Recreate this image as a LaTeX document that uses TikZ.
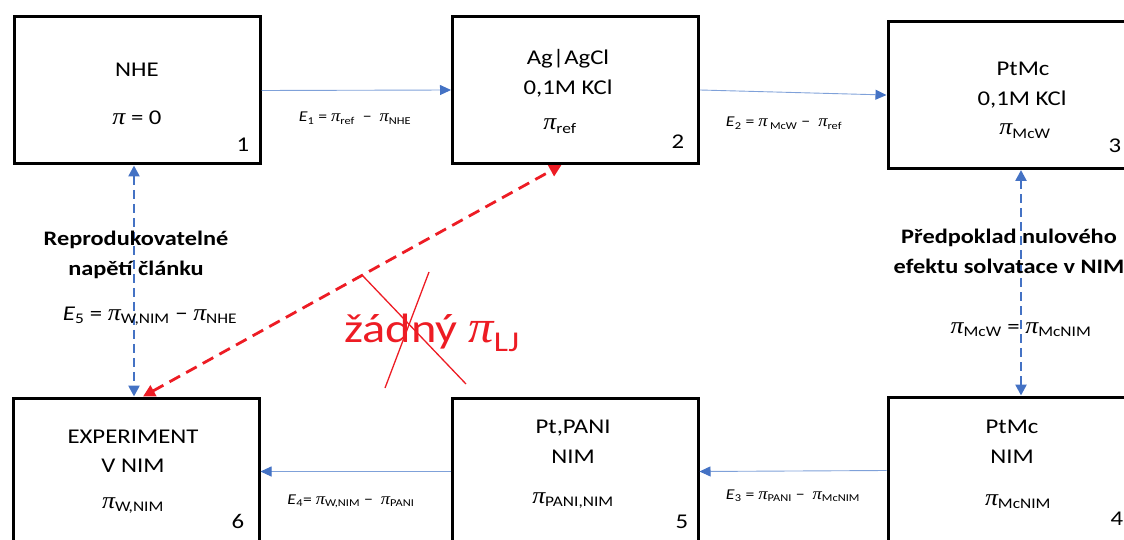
\documentclass[tikz,border=0pt]{standalone}
\usepackage{fontspec}
\usepackage{amsmath}
\setmainfont{Carlito}[FakeStretch=1.18]
\newfontfamily\greekfont{Liberation Serif}[FakeStretch=1.1,Scale=1.12]
\usetikzlibrary{arrows.meta}
\definecolor{boxblue}{HTML}{4472C4}
\definecolor{lineblue}{HTML}{7FA1D9}
\definecolor{alertred}{RGB}{237,28,36}
\newcommand{\piv}{{\greekfont\itshape π}}
\newcommand{\sub}[1]{$_{\text{#1}}$}
\begin{document}
\begin{tikzpicture}[x=1pt,y=-1pt,
  cell/.style={draw=black, line width=3pt, minimum width=246pt, minimum height=147pt, inner sep=0pt},
  big/.style={font=\fontsize{21}{25}\selectfont, anchor=base, inner sep=0pt},
  eq/.style={font=\fontsize{15}{18}\selectfont, anchor=base, inner sep=0pt},
  note/.style={font=\bfseries\fontsize{20.6}{24}\selectfont, anchor=base, inner sep=0pt},
  link/.style={draw=lineblue, line width=0.9pt, -{Triangle[length=11pt,width=10pt,color=boxblue]}},
  bridge/.style={draw=boxblue, line width=2.5pt, dash pattern=on 9pt off 5pt,
    {Triangle[length=11pt,width=11pt]}-{Triangle[length=11pt,width=11pt]}},
  redbridge/.style={draw=alertred, line width=2.8pt, dash pattern=on 12pt off 7pt,
    {Triangle[length=12pt,width=12pt]}-{Triangle[length=12pt,width=12pt]}},
  strike/.style={draw=alertred, line width=1.3pt}
]
\clip (0,0) rectangle (1124,540);

% cells
\node[cell] (b1) at (137,90.5) {};
\node[cell] (b2) at (575.5,90) {};
\node[cell, minimum width=268pt] (b3) at (1022,95) {};
\node[cell, minimum width=268pt] (b4) at (1022,470.5) {};
\node[cell] (b5) at (575,471.5) {};
\node[cell] (b6) at (136,471.5) {};

% cell 1
\node[big] (t1a) at (137,76.7) {NHE};
\node[big] (t1b) at (137,125) {\piv{} = 0};
\node[big] (n1) at (243,152) {1};
% cell 2
\node[big] (t2a) at (568,65) {Ag\textbar AgCl};
\node[big] (t2b) at (568,95) {0,1M KCl};
\node[big] (t2c) at (560,130) {\piv\sub{ref}};
\node[big] (n2) at (678,149) {2};
% cell 3
\node[big] (t3a) at (1023,76) {PtMc};
\node[big] (t3b) at (1022,106) {0,1M KCl};
\node[big] (t3c) at (1025,135) {\piv\sub{McW}};
\node[big] (n3) at (1115,153) {3};
% cell 4
\node[big] (t4a) at (1012,433) {PtMc};
\node[big] (t4b) at (1012,463) {NIM};
\node[big] (t4c) at (1018,505) {\piv\sub{McNIM}};
\node[big] (n4) at (1117,525) {4};
% cell 5
\node[big] (t5a) at (573,433) {Pt,PANI};
\node[big] (t5b) at (573,463) {NIM};
\node[big] (t5c) at (573,503) {\piv\sub{PANI,NIM}};
\node[big] (n5) at (682,528) {5};
% cell 6
\node[big] (t6a) at (133,443) {EXPERIMENT};
\node[big] (t6b) at (133,472) {V NIM};
\node[big] (t6c) at (133,508) {\piv\sub{W,NIM}};
\node[big] (n6) at (238,528) {6};

% horizontal links
\draw[link] (b1.east) -- (b2.west);
\draw[link] (b2.east) -- (b3.west);
\draw[link] (b4.west) -- (b5.east);
\draw[link] (b5.west) -- (b6.east);

\node[eq] (e1) at (355,122) {\textit{E}\sub{1} = \piv\sub{ref} \ − \ \piv\sub{NHE}};
\node[eq] (e2) at (784,127) {\textit{E}\sub{2} = \piv\,\sub{McW} − \ \piv\sub{ref}};
\node[eq] (e3) at (793,499) {\textit{E}\sub{3} = \piv\sub{PANI} − \ \piv\sub{McNIM}};
\node[eq] (e4) at (351,504) {\textit{E}\sub{4}= \piv\sub{W,NIM} − \ \piv\sub{PANI}};

% vertical dashed links
\draw[bridge] ([xshift=-3pt]b1.south) -- ([xshift=-2pt]b6.north);
\draw[bridge] ([xshift=-1pt]b3.south) -- ([xshift=-1pt]b4.north);

\node[note] (l1a) at (136,245) {Reprodukovatelné};
\node[note] (l1b) at (136,275) {napětí článku};
\node[big] (l1c) at (150,320) {\textit{E}\sub{5} = \piv\sub{W,NIM} − \piv\sub{NHE}};

\node[note] (l2a) at (1009,243) {Předpoklad nulového};
\node[note] (l2b) at (1009,273) {efektu solvatace v NIM};
\node[big] (l2c) at (1021,333) {\piv\sub{McW} = \piv\sub{McNIM}};

% red diagonal
\draw[redbridge] ([xshift=7pt]b6.north) -- ([xshift=-14pt]b2.south);
\node[big, text=alertred, font=\fontsize{41}{48}\selectfont] (lj) at (432,342) {žádný \piv\sub{LJ}};
\draw[strike] (362,275) -- (466,384);
\draw[strike] (429,272) -- (385,388);
\end{tikzpicture}
\end{document}
